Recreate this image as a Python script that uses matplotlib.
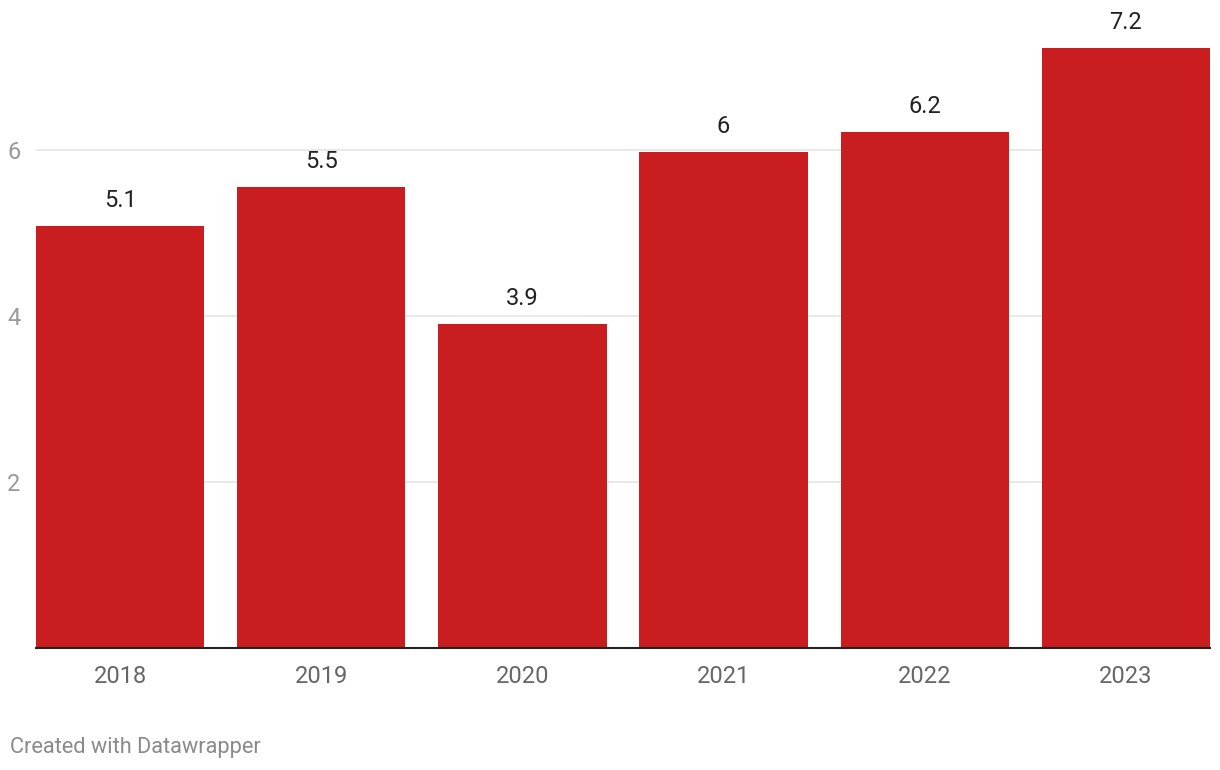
import matplotlib.pyplot as plt

plt.rcParams['font.family'] = ['Roboto', 'DejaVu Sans']

years = ['2018', '2019', '2020', '2021', '2022', '2023']
values = [5.08, 5.55, 3.9, 5.98, 6.22, 7.23]
labels = ['5.1', '5.5', '3.9', '6', '6.2', '7.2']
yticks = [2, 4, 6]

W, H = 1220, 770
fig = plt.figure(figsize=(W / 100, H / 100), dpi=100)
ax = fig.add_axes([36 / W, 122 / H, 1174 / W, 600 / H])

x = range(len(years))
ax.bar(x, values, width=0.836, color='#c91d1f', zorder=2)
for xi, v, lab in zip(x, values, labels):
    ax.annotate(lab, (xi, v), xytext=(0, 10), textcoords='offset points',
                ha='center', va='bottom', fontsize=17, color='#222222')

ax.set_xlim(-0.418, len(years) - 1 + 0.418)
ax.set_ylim(0, 600 / 83)
ax.set_yticks(yticks)
ax.set_yticklabels([str(t) for t in yticks])
ax.set_xticks(list(x))
ax.set_xticklabels(years)
ax.grid(axis='y', color='#e5e5e5', linewidth=1.2, zorder=0)
for s in ['top', 'right', 'left']:
    ax.spines[s].set_visible(False)
ax.spines['bottom'].set_color('#222222')
ax.spines['bottom'].set_linewidth(1.5)
ax.spines['bottom'].set_zorder(3)
ax.tick_params(axis='y', length=0, pad=11, labelsize=17, labelcolor='#999999')
ax.tick_params(axis='x', length=0, pad=12, labelsize=17, labelcolor='#666666')

fig.text(10 / W, 1 - 748 / H, 'Created with Datawrapper', fontsize=15.7,
         color='#8a8a8a', va='center', ha='left')

fig.savefig('out.png', dpi=100)
